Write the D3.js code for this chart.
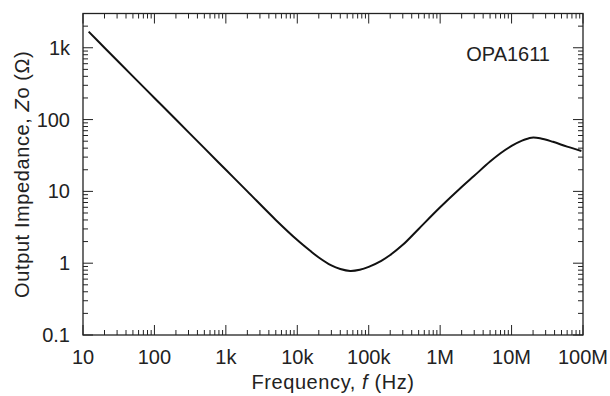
<!DOCTYPE html>
<html>
<head>
<meta charset="utf-8">
<script src="https://cdn.jsdelivr.net/npm/d3@7"></script>
<style>
  html, body { margin: 0; padding: 0; background: #fff; }
  text { font-family: "Liberation Sans", Arial, Helvetica, sans-serif; fill: #222; }
</style>
</head>
<body>
<svg id="chart" width="610" height="396"></svg>
<script>
// Frequency (Hz) and output impedance (ohm)
const freq = [12, 20, 50, 100, 200, 500, 1e3, 2e3, 5e3, 1e4, 1.5e4, 2e4, 3e4, 4e4, 5.5e4, 7.5e4, 1e5, 1.5e5, 2e5, 3e5, 5e5, 1e6, 2e6, 3e6, 5e6, 7e6, 1e7, 1.4e7, 1.9e7, 2.5e7, 3.8e7, 6e7, 9.5e7];
const zo   = [1680, 1000, 400, 200, 100, 40, 20, 10, 4.0, 2.1, 1.5, 1.2, 0.93, 0.83, 0.78, 0.81, 0.89, 1.08, 1.3, 1.8, 3.0, 6.0, 11.5, 16.5, 26, 34, 43, 51, 56, 55, 49, 42, 36.5];
const xTickValues = [10, 100, 1e3, 1e4, 1e5, 1e6, 1e7, 1e8];
const xTickLabels = ["10", "100", "1k", "10k", "100k", "1M", "10M", "100M"];
const yTickValues = [0.1, 1, 10, 100, 1000];
const yTickLabels = ["0.1", "1", "10", "100", "1k"];
const deviceLabel = "OPA1611";

const svg = d3.select("#chart");
const pL = 83, pR = 583, pT = 13.5, pB = 335;
const FS = 20;

const x = d3.scaleLog().domain([10, 1e8]).range([pL, pR]);
const y = d3.scaleLog().domain([0.1, 3000]).range([pB, pT]);

function minors(lo, hi, maxv) {
  const out = [];
  for (let d = lo; d < hi; d *= 10) {
    for (let k = 2; k <= 9; k++) { const v = d * k; if (v <= maxv + 1e-9) out.push(v); }
  }
  return out;
}
const xMinor = minors(10, 1e8, 1e8);
const yMinor = minors(0.1, 1e4, 3000);

const g = svg.append("g");
const stroke = "#222";
const majLen = 10, minLen = 5;

function vt(cls, data, y0, len) {
  g.selectAll("." + cls).data(data).enter().append("line").attr("class", cls)
    .attr("x1", d => x(d)).attr("x2", d => x(d)).attr("y1", y0).attr("y2", y0 + len)
    .attr("stroke", stroke).attr("stroke-width", 1);
}
function ht(cls, data, x0, len) {
  g.selectAll("." + cls).data(data).enter().append("line").attr("class", cls)
    .attr("y1", d => y(d)).attr("y2", d => y(d)).attr("x1", x0).attr("x2", x0 + len)
    .attr("stroke", stroke).attr("stroke-width", 1);
}
vt("xmajb", xTickValues, pB, -majLen);
vt("xminb", xMinor, pB, -minLen);
vt("xmajt", xTickValues, pT, majLen);
vt("xmint", xMinor, pT, minLen);
ht("ymajl", yTickValues, pL, majLen);
ht("yminl", yMinor, pL, minLen);
ht("ymajr", yTickValues, pR, -majLen);
ht("yminr", yMinor, pR, -minLen);

g.append("rect").attr("x", pL).attr("y", pT).attr("width", pR - pL).attr("height", pB - pT)
  .attr("fill", "none").attr("stroke", stroke).attr("stroke-width", 1.3);

g.selectAll(".xl").data(xTickValues).enter().append("text").attr("class", "xl")
  .attr("x", d => x(d)).attr("y", 364).attr("text-anchor", "middle")
  .attr("font-size", FS).text((d, i) => xTickLabels[i]);
g.selectAll(".yl").data(yTickValues).enter().append("text").attr("class", "yl")
  .attr("x", 70).attr("y", d => y(d) + 7).attr("text-anchor", "end")
  .attr("font-size", FS).text((d, i) => yTickLabels[i]);

const xt = g.append("text").attr("x", (pL + pR) / 2).attr("y", 389).attr("text-anchor", "middle")
  .attr("font-size", FS).attr("letter-spacing", 0.6);
xt.append("tspan").text("Frequency, ");
xt.append("tspan").attr("font-style", "italic").text("f");
xt.append("tspan").text(" (Hz)");

const yt = g.append("text").attr("transform", `translate(29,${(pT + pB) / 2}) rotate(-90)`)
  .attr("text-anchor", "middle").attr("font-size", FS).attr("letter-spacing", 0.6);
yt.append("tspan").text("Output Impedance, ");
yt.append("tspan").attr("font-style", "italic").text("Z");
yt.append("tspan").text("o (Ω)");

g.append("text").attr("x", 550).attr("y", 61).attr("text-anchor", "end").attr("font-size", FS).text(deviceLabel);

const line = d3.line().x((d, i) => x(freq[i])).y((d, i) => y(zo[i])).curve(d3.curveCatmullRom.alpha(0.5));
g.append("path").datum(zo).attr("d", line).attr("fill", "none").attr("stroke", "#111").attr("stroke-width", 2);
</script>
</body>
</html>
